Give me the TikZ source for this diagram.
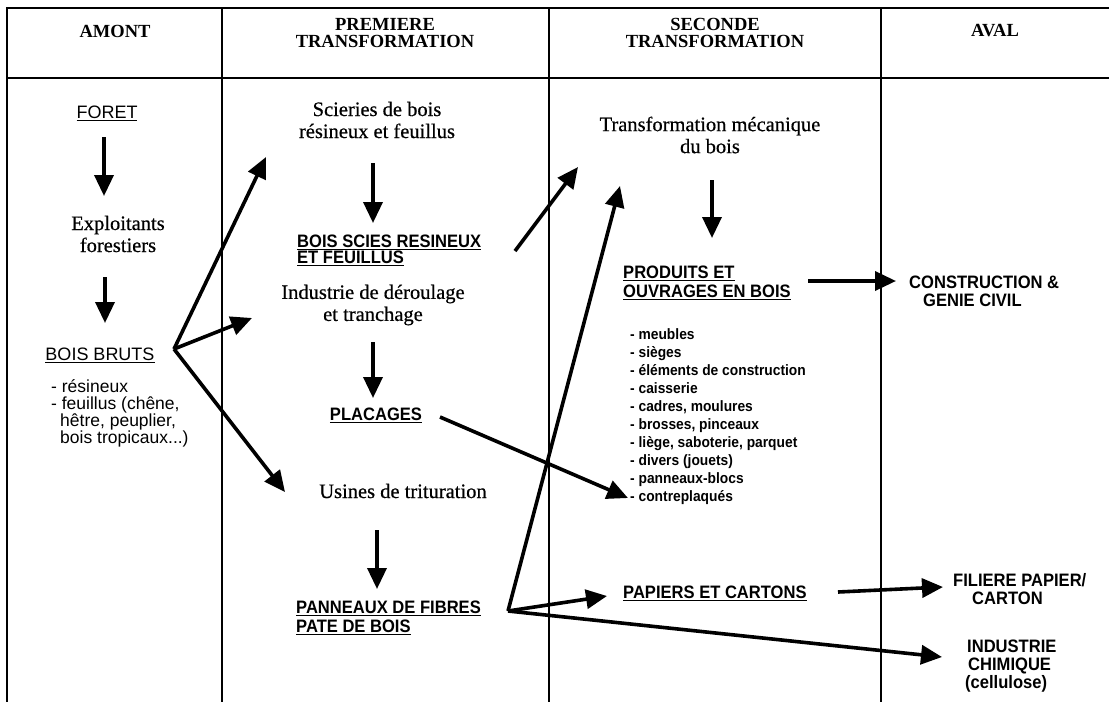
\documentclass[tikz,border=0pt]{standalone}
\usepackage{fontspec}
\setmainfont{Liberation Serif}
\newfontfamily\bodyfont[FakeBold=0.5]{Liberation Serif}
\newfontfamily\lsans[FakeStretch=0.92]{Liberation Sans}
\newfontfamily\lsansr{Liberation Sans}
\usetikzlibrary{arrows.meta}
\begin{document}
\begin{tikzpicture}[x=1pt,y=-1pt,
  hdr/.style={font=\fontsize{18.5}{17}\selectfont\bfseries, align=center, inner sep=0pt},
  body/.style={font=\bodyfont\fontsize{20.5}{22}\selectfont, align=center, inner sep=0pt},
  lab/.style={font=\lsans\fontsize{18}{16}\selectfont\bfseries, align=left, inner sep=0pt},
  labtwo/.style={font=\lsans\fontsize{18}{19}\selectfont\bfseries, align=left, inner sep=0pt},
  labc/.style={font=\lsans\fontsize{18}{18}\selectfont\bfseries, align=left, inner sep=0pt},
  labr/.style={font=\lsansr\fontsize{18}{18}\selectfont, align=center, inner sep=0pt},
  lst/.style={font=\lsans\fontsize{15}{18}\selectfont\bfseries, align=left, inner sep=0pt},
  lstl/.style={font=\lsansr\fontsize{17.5}{17}\selectfont, align=left, inner sep=0pt},
  arr/.style={line width=3.6pt, -{Triangle[length=21pt,width=19pt]}},
  rule/.style={line width=2pt},
  frame/.style={line width=2.8pt}]
\useasboundingbox (0,0) rectangle (1109,702);
% table
\draw[frame] (1109,8) -- (7,8) -- (7,702);
\draw[frame] (7,78) -- (1109,78);
\draw[rule] (222,8) -- (222,702);
\draw[rule] (549,8) -- (549,702);
\draw[rule] (881,8) -- (881,702);
% headers
\node[hdr] (amont) at (115,31) {AMONT};
\node[hdr] (prem) at (385,33) {PREMIERE\\TRANSFORMATION};
\node[hdr] (sec) at (715,33) {SECONDE\\TRANSFORMATION};
\node[hdr] (aval) at (995,31) {AVAL};
% column 1
\node[labr] (foret) at (107,113) {\underline{FORET}};
\node[body] (exploit) at (118,234) {Exploitants\\forestiers};
\node[labr] (boisbruts) at (100,355) {\underline{BOIS BRUTS}};
\node[lstl, anchor=west] (listbb) at (51,413) {- résineux\\- feuillus (chêne,\\\hspace*{9pt}hêtre, peuplier,\\\hspace*{9pt}bois tropicaux...)};
% column 2
\node[body] (scieries) at (377,120) {Scieries de bois\\résineux et feuillus};
\node[lab, anchor=west] (boisscies) at (297,250) {\underline{BOIS SCIES RESINEUX}\\\underline{ET FEUILLUS}};
\node[body] (industrie) at (373,305) {Industrie de déroulage\\et tranchage};
\node[lab] (placages) at (376,415) {\underline{PLACAGES}};
\node[body] (usines) at (403,491) {Usines de trituration};
\node[labtwo, anchor=west] (panneaux) at (296,618) {\underline{PANNEAUX DE FIBRES}\\\underline{PATE DE BOIS}};
% column 3
\node[body] (transfo) at (710,135) {Transformation mécanique\\du bois};
\node[labtwo, anchor=west] (produits) at (623,283) {\underline{PRODUITS ET}\\\underline{OUVRAGES EN BOIS}};
\node[lst, anchor=west] (liste) at (630,417) {- meubles\\- sièges\\- éléments de construction\\- caisserie\\- cadres, moulures\\- brosses, pinceaux\\- liège, saboterie, parquet\\- divers (jouets)\\- panneaux-blocs\\- contreplaqués};
\node[lab, anchor=west] (papiers) at (623,593) {\underline{PAPIERS ET CARTONS}};
% column 4
\node[labc, anchor=west] (constr) at (909,291) {CONSTRUCTION \&\\\hspace*{14pt}GENIE CIVIL};
\node[labc, anchor=west] (filiere) at (953,589) {FILIERE PAPIER/\\\hspace*{19pt}CARTON};
\node[labc, anchor=west] (chimie) at (965,666) {\hspace*{2pt}INDUSTRIE\\\hspace*{3pt}CHIMIQUE\\(cellulose)};
% connector end points
\coordinate (foout) at (104,137);
\coordinate (exin) at (104,196);
\coordinate (exout) at (105,277);
\coordinate (bbin) at (105,323);
\coordinate (scout) at (373,163);
\coordinate (bsin) at (373,223);
\coordinate (indout) at (373,342);
\coordinate (plin) at (373,398);
\coordinate (usout) at (377,530);
\coordinate (pfin) at (377,589);
\coordinate (trout) at (712,180);
\coordinate (prin) at (712,238);
\coordinate (bbout) at (174,349);
\coordinate (pfout) at (508,611);
\coordinate (scin) at (266,157);
\coordinate (indin) at (252,318);
\coordinate (usin) at (285,492);
\coordinate (bsout) at (515,251);
\coordinate (trin1) at (578,167);
\coordinate (trin2) at (620,186);
\coordinate (plout) at (440,417);
\coordinate (lstin) at (628,498);
\coordinate (papin) at (607,596);
\coordinate (chin) at (942,657);
\coordinate (prout) at (808,281);
\coordinate (coin) at (896,281);
\coordinate (paout) at (838,592);
\coordinate (fiin) at (943,587);
% vertical arrows
\draw[arr] (foout) -- (exin);
\draw[arr] (exout) -- (bbin);
\draw[arr] (scout) -- (bsin);
\draw[arr] (indout) -- (plin);
\draw[arr] (usout) -- (pfin);
\draw[arr] (trout) -- (prin);
% diagonal arrows
\draw[arr] (bbout) -- (scin);
\draw[arr] (bbout) -- (indin);
\draw[arr] (bbout) -- (usin);
\draw[arr] (bsout) -- (trin1);
\draw[arr] (plout) -- (lstin);
\draw[arr] (pfout) -- (trin2);
\draw[arr] (pfout) -- (papin);
\draw[arr] (pfout) -- (chin);
\draw[arr] (prout) -- (coin);
\draw[arr] (paout) -- (fiin);
\end{tikzpicture}
\end{document}
